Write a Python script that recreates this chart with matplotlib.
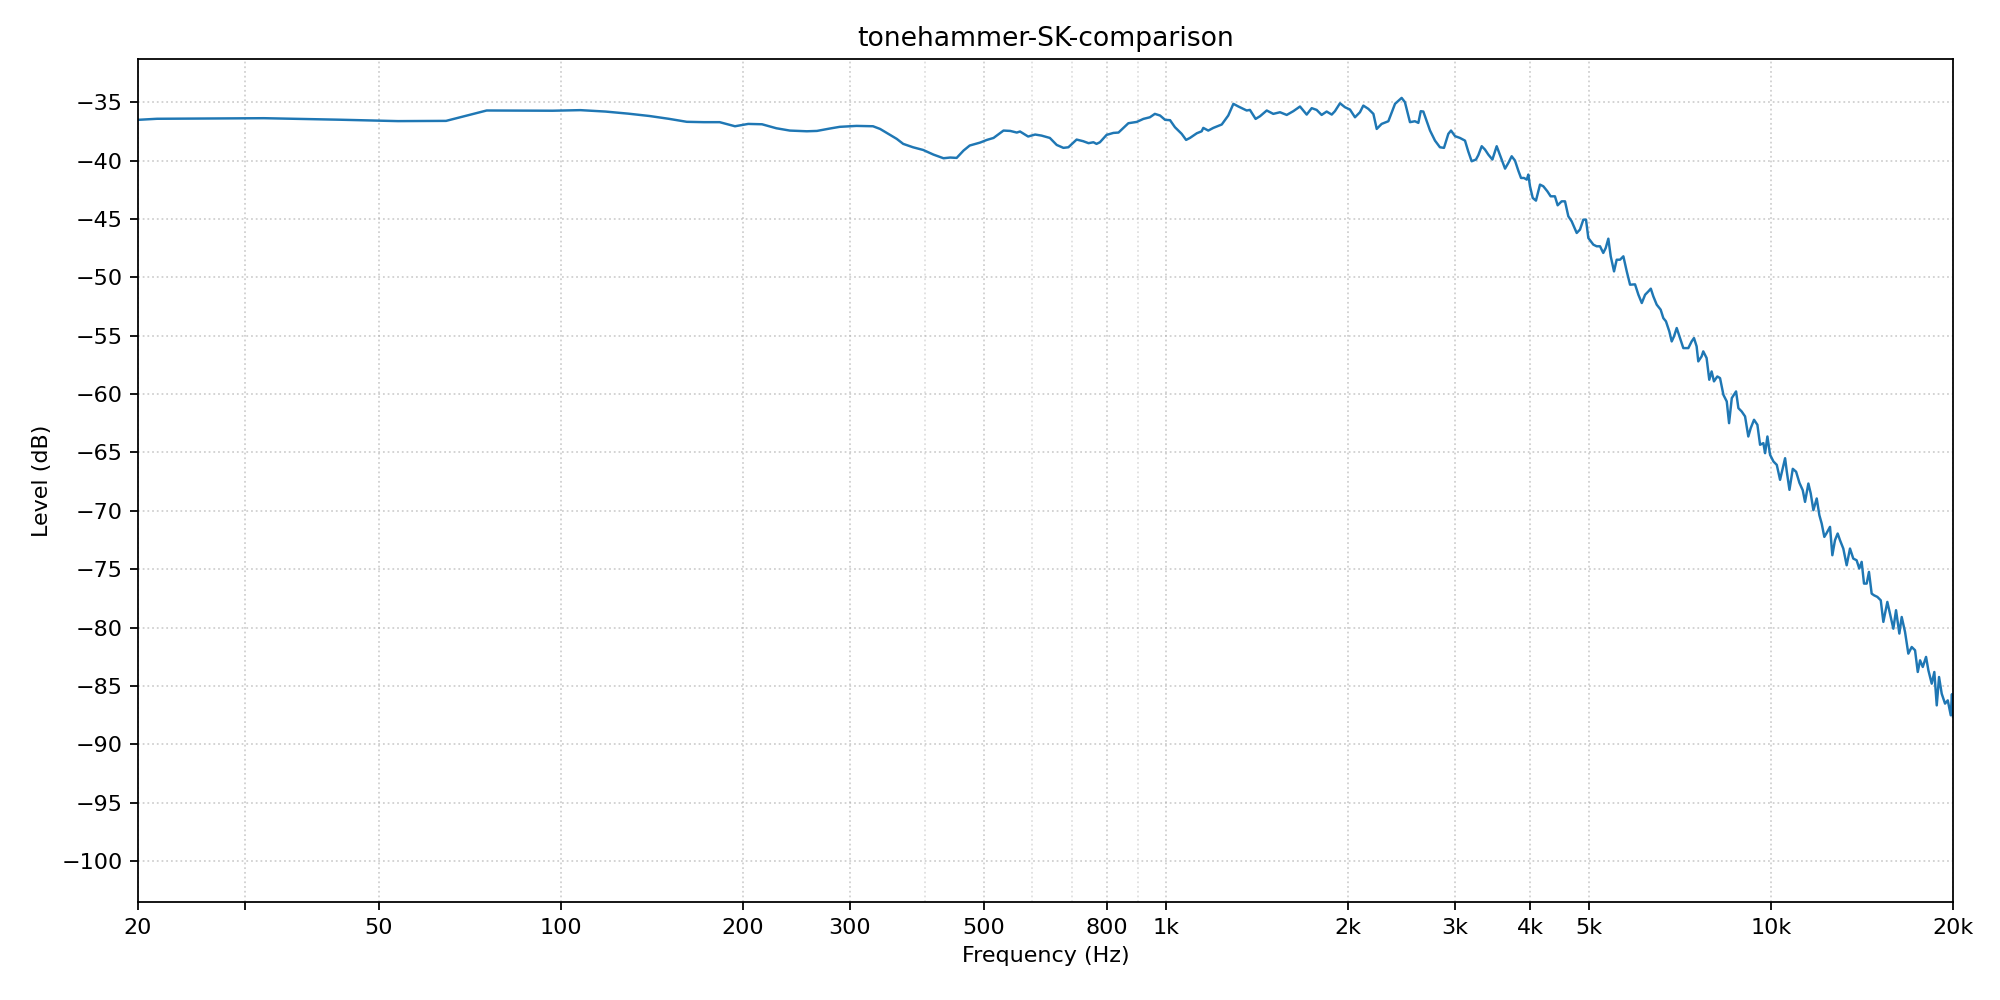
import numpy as np
import matplotlib
matplotlib.use('Agg')
import matplotlib.pyplot as plt
from matplotlib.ticker import FixedLocator, NullFormatter

# frequency response (Hz, dB)
freq = [20, 21.5, 32.3, 43.1, 53.8, 64.6, 75.4, 86.1, 96.9, 107.7, 118.4, 129.2, 140, 150.7,
        161.5, 172.3, 183, 194, 204, 215, 227, 239, 255, 265, 278, 289, 308, 328, 337, 350,
        359, 368, 382, 397, 413, 429, 440, 451, 463, 474, 493, 506, 519, 539, 553, 567, 574,
        592, 608, 623, 643, 660, 677, 690, 712, 730, 745, 759, 768, 778, 798, 819, 835, 867,
        895, 918, 941, 959, 978, 997, 1016, 1035, 1062, 1080, 1096, 1125, 1146, 1153, 1175,
        1198, 1237, 1268, 1293, 1318, 1343, 1360, 1377, 1407, 1431, 1468, 1505, 1544, 1584,
        1624, 1666, 1709, 1742, 1775, 1809, 1844, 1880, 1903, 1940, 1977, 2015, 2054, 2093,
        2120, 2161, 2203, 2231, 2273, 2332, 2392, 2453, 2484, 2532, 2580, 2614, 2638, 2664,
        2733, 2785, 2838, 2882, 2930, 2960, 3006, 3062, 3122, 3160, 3202, 3255, 3284, 3327,
        3369, 3412, 3465, 3522, 3577, 3636, 3682, 3729, 3776, 3824, 3864, 3908, 3949, 3973,
        3998, 4040, 4090, 4153, 4206, 4271, 4325, 4396, 4442, 4510, 4568, 4626, 4685, 4776,
        4836, 4898, 4948, 4992, 5088, 5152, 5219, 5284, 5333, 5387, 5436, 5505, 5561, 5632,
        5704, 5778, 5851, 5963, 6040, 6118, 6196, 6274, 6332, 6393, 6476, 6574, 6641, 6708,
        6794, 6856, 6916, 6988, 7077, 7166, 7304, 7396, 7463, 7538, 7586, 7683, 7731, 7830,
        7910, 7981, 8053, 8156, 8241, 8347, 8454, 8529, 8618, 8759, 8837, 8949, 9064, 9177,
        9262, 9379, 9500, 9597, 9719, 9782, 9869, 9970, 10098, 10227, 10356, 10449, 10556,
        10624, 10733, 10869, 11008, 11148, 11289, 11388, 11534, 11638, 11756, 11906, 12027,
        12134, 12256, 12368, 12524, 12636, 12764, 12894, 13008, 13174, 13344, 13514, 13684,
        13858, 14000, 14127, 14254, 14399, 14525, 14676, 14806, 14998, 15192, 15343, 15578,
        15780, 15938, 16101, 16306, 16453, 16663, 16873, 17092, 17310, 17490, 17645, 17826,
        18050, 18212, 18445, 18628, 18800, 18966, 19159, 19404, 19605, 19830, 19920, 20000]
level = [-36.51, -36.42, -36.37, -36.5, -36.62, -36.6, -35.71, -35.72, -35.73, -35.68, -35.8,
         -35.98, -36.18, -36.42, -36.68, -36.71, -36.71, -37.06, -36.86, -36.89, -37.23, -37.43,
         -37.49, -37.46, -37.26, -37.11, -37.03, -37.06, -37.29, -37.8, -38.14, -38.57, -38.86,
         -39.09, -39.49, -39.8, -39.74, -39.77, -39.14, -38.71, -38.46, -38.23, -38.06, -37.43,
         -37.46, -37.6, -37.51, -37.94, -37.77, -37.86, -38.06, -38.66, -38.91, -38.86, -38.2,
         -38.34, -38.51, -38.43, -38.57, -38.43, -37.8, -37.63, -37.6, -36.8, -36.69, -36.43,
         -36.29, -36.0, -36.14, -36.51, -36.54, -37.14, -37.71, -38.23, -38.06, -37.66, -37.49,
         -37.2, -37.43, -37.2, -36.91, -36.14, -35.14, -35.37, -35.57, -35.71, -35.66, -36.43,
         -36.2, -35.71, -36.0, -35.86, -36.09, -35.77, -35.37, -36.06, -35.51, -35.66, -36.09,
         -35.8, -36.06, -35.77, -35.09, -35.43, -35.63, -36.29, -35.86, -35.29, -35.57, -36.0,
         -37.29, -36.86, -36.63, -35.14, -34.63, -35.0, -36.71, -36.63, -36.77, -35.77, -35.8,
         -37.43, -38.29, -38.86, -38.91, -37.71, -37.43, -37.91, -38.06, -38.29, -39.2, -40.06,
         -39.91, -39.54, -38.77, -39.06, -39.49, -39.91, -38.77, -39.71, -40.69, -40.2, -39.63,
         -40.0, -40.86, -41.49, -41.49, -41.63, -41.2, -42.2, -43.2, -43.43, -42.06, -42.2,
         -42.63, -43.06, -43.06, -43.83, -43.49, -43.49, -44.77, -45.2, -46.2, -45.91, -45.06,
         -45.06, -46.63, -47.2, -47.34, -47.34, -47.91, -47.49, -46.69, -48.2, -49.49, -48.49,
         -48.49, -48.2, -49.49, -50.63, -50.6, -51.49, -52.2, -51.49, -51.2, -50.97, -51.63,
         -52.34, -52.77, -53.49, -53.77, -54.63, -55.49, -55.06, -54.34, -55.2, -56.06, -56.06,
         -55.49, -55.2, -55.91, -57.2, -56.77, -56.34, -56.91, -58.77, -58.06, -58.91, -58.49,
         -58.63, -60.06, -60.63, -62.49, -60.34, -59.77, -61.2, -61.49, -61.91, -63.63, -62.91,
         -62.2, -62.63, -64.34, -64.2, -65.06, -63.63, -65.2, -65.77, -66.06, -67.34, -66.49,
         -65.49, -66.63, -68.2, -66.4, -66.65, -67.6, -68.23, -69.23, -67.66, -68.51, -69.94,
         -68.94, -70.37, -71.09, -72.23, -71.89, -71.37, -73.8, -72.51, -71.94, -72.51, -73.23,
         -74.66, -73.23, -74.09, -74.23, -74.94, -74.37, -76.23, -76.23, -75.23, -77.09, -77.23,
         -77.37, -77.66, -79.51, -77.8, -79.09, -80.09, -78.51, -80.51, -79.09, -80.37, -82.23,
         -81.66, -81.94, -83.8, -82.8, -83.37, -82.51, -83.66, -84.8, -83.8, -86.66, -84.23,
         -85.66, -86.51, -86.23, -87.51, -85.7, -87.6]

xticks = [20, 30, 50, 100, 200, 300, 500, 800, 1000, 2000, 3000, 4000, 5000, 10000, 20000]
xticklabels = ['20', '', '50', '100', '200', '300', '500', '800', '1k', '2k', '3k', '4k', '5k', '10k', '20k']
xminor = [200, 300, 400, 500, 600, 700, 800, 900, 2000, 3000, 4000, 5000]
yticks = list(range(-100, -34, 5))

fig = plt.figure(figsize=(12.5, 6.25), dpi=160)
ax = fig.add_subplot(111)
fig.subplots_adjust(left=0.069, right=0.9765, top=0.941, bottom=0.098)

ax.semilogx(freq, level, color='#1f77b4', lw=1.1)
ax.set_xlim(20, 20000)
ax.set_ylim(-103.5, -31.3)

ax.xaxis.set_major_locator(FixedLocator(xticks))
ax.set_xticklabels(xticklabels)
ax.xaxis.set_minor_locator(FixedLocator(xminor))
ax.xaxis.set_minor_formatter(NullFormatter())
ax.tick_params(axis='x', which='minor', length=0)
ax.set_yticks(yticks)

ax.grid(True, which='major', ls=':', color='#b0b0b0', lw=0.8, alpha=0.6)
ax.grid(True, which='minor', axis='x', ls=':', color='#b0b0b0', lw=0.8, alpha=0.4)

ax.set_title('tonehammer-SK-comparison')
ax.set_xlabel('Frequency (Hz)')
ax.set_ylabel('Level (dB)')

fig.savefig('out.png', dpi=160)
